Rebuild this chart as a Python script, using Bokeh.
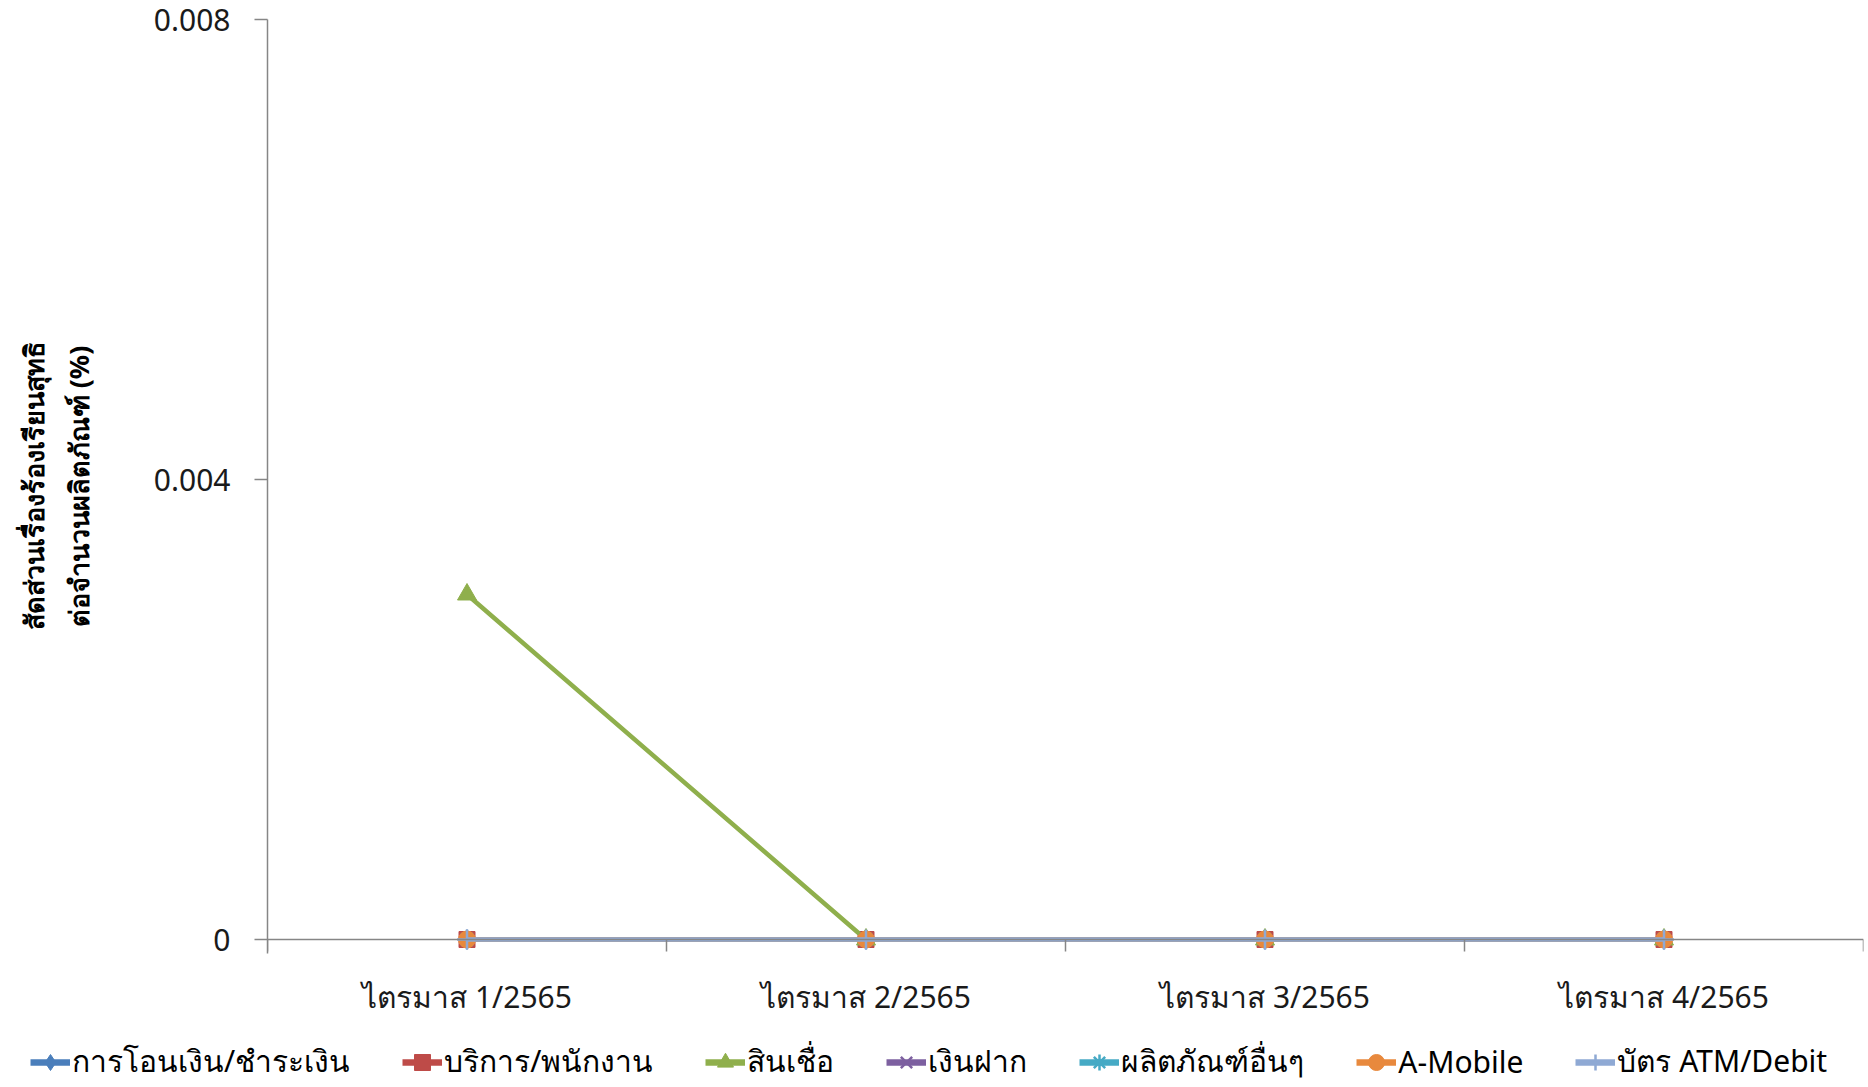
from bokeh.plotting import figure
from bokeh.layouts import column
from bokeh.models import FixedTicker, NumeralTickFormatter, Legend, LegendItem, LinearAxis
from bokeh.embed import file_html
from bokeh.resources import INLINE

# ---- data ----
quarters = ["ไตรมาส 1/2565", "ไตรมาส 2/2565", "ไตรมาส 3/2565", "ไตรมาส 4/2565"]
series_names = ["การโอนเงิน/ชำระเงิน", "บริการ/พนักงาน", "สินเชื่อ", "เงินฝาก",
                "ผลิตภัณฑ์อื่นๆ", "A-Mobile", "บัตร ATM/Debit"]
transfer = [0, 0, 0, 0]
service = [0, 0, 0, 0]
loan = [0.003, 0, 0, 0]
deposit = [0, 0, 0, 0]
other_products = [0, 0, 0, 0]
a_mobile = [0, 0, 0, 0]
atm_debit = [0, 0, 0, 0]
y_ticks = [0, 0.004, 0.008]
y_title = "สัดส่วนเรื่องร้องเรียนสุทธิ\nต่อจำนวนผลิตภัณฑ์ (%)"

series_values = [transfer, service, loan, deposit, other_products, a_mobile, atm_debit]
colors = ["#4A7EBB", "#BE4B48", "#8FAF4C", "#7D60A0", "#46AAC5", "#E8893D", "#8FA9D4"]
markers = ["diamond", "square", "triangle", "x", "asterisk", "circle", "cross"]
msizes = [20, 16, 19, 17, 17, 17, 20]

FONT = "Noto Sans"
x = list(range(1, len(quarters) + 1))

W, H_MAIN, H_LEG = 1868, 1030, 57
top_px, zero_px, pad_px = 19, 939, 14
y_span = y_ticks[-1] - y_ticks[0]
y_pad = y_span * pad_px / (zero_px - top_px)

p = figure(width=W, height=H_MAIN, x_range=(0.5, len(quarters) + 0.5),
           y_range=(y_ticks[0] - y_pad, y_ticks[-1]),
           output_backend="svg", toolbar_location=None,
           min_border_left=267, min_border_right=5, min_border_top=top_px,
           min_border_bottom=H_MAIN - zero_px - pad_px)
p.frame_align = False
p.outline_line_color = None
p.xgrid.grid_line_color = None
p.ygrid.grid_line_color = None

# x axis line at value 0 with tick marks between categories
xa = p.xaxis[0]
xa.fixed_location = 0
xa.ticker = FixedTicker(ticks=[], minor_ticks=[i + 0.5 for i in range(len(quarters) + 1)])
xa.major_tick_out = 0
xa.major_tick_in = 0
xa.minor_tick_out = 12
xa.minor_tick_in = 0
xa.minor_tick_line_color = "#868686"
xa.minor_tick_line_width = 1.5
xa.axis_line_color = "#868686"
xa.axis_line_width = 1.5
xa.major_label_text_font_size = "0px"
xa.major_label_standoff = 0

# category labels
xl = LinearAxis(ticker=FixedTicker(ticks=x, minor_ticks=[]),
                major_label_overrides={i: q for i, q in zip(x, quarters)},
                axis_line_color=None, major_tick_line_color=None,
                minor_tick_line_color=None, major_tick_out=0, major_tick_in=0,
                major_label_text_font=FONT, major_label_text_font_size="30px",
                major_label_text_color="#1a1a1a", major_label_standoff=22)
p.add_layout(xl, "below")

ya = p.yaxis[0]
ya.ticker = FixedTicker(ticks=y_ticks, minor_ticks=[])
ya.formatter = NumeralTickFormatter(format="0.[000]")
ya.major_tick_out = 13
ya.major_tick_in = 0
ya.major_tick_line_color = "#868686"
ya.major_tick_line_width = 1.5
ya.axis_line_color = "#868686"
ya.axis_line_width = 1.5
ya.major_label_text_font = FONT
ya.major_label_text_font_size = "30px"
ya.major_label_text_color = "#1a1a1a"
ya.major_label_standoff = 24
ya.axis_label = y_title
ya.axis_label_text_font = FONT
ya.axis_label_text_font_size = "27px"
ya.axis_label_text_font_style = "bold"
ya.axis_label_text_color = "#000000"
ya.axis_label_standoff = 54

# legend strip below the chart (its frame spans the whole strip)
pl = figure(width=W, height=H_LEG, x_range=(100, 101), y_range=(100, 101),
            output_backend="svg", toolbar_location=None,
            x_axis_location=None, y_axis_location=None,
            min_border_left=0, min_border_right=0, min_border_top=0, min_border_bottom=0)
pl.frame_align = False
pl.outline_line_color = None
pl.xgrid.grid_line_color = None
pl.ygrid.grid_line_color = None

items = []
for name, vals, c, m, s in zip(series_names, series_values, colors, markers, msizes):
    lw = 2.5 if m in ("x", "asterisk", "cross") else 1
    p.line(x, vals, line_color=c, line_width=4.5)
    p.scatter(x, vals, marker=m, size=s, fill_color=c, line_color=c, line_width=lw)
    lr = pl.line(x, vals, line_color=c, line_width=6.5)
    sr = pl.scatter(x, vals, marker=m, size=s, fill_color=c, line_color=c, line_width=lw)
    items.append(LegendItem(label=name, renderers=[lr, sr]))

legend = Legend(items=items, orientation="horizontal", location=(30, 2),
                label_text_font=FONT, label_text_font_size="30px",
                label_text_color="#000000", glyph_width=40, glyph_height=42,
                label_standoff=2, spacing=52, padding=0, margin=0,
                border_line_color=None, background_fill_alpha=0)
pl.add_layout(legend, "center")

layout = column(p, pl, spacing=0)
open("out.html", "w").write(file_html(layout, INLINE))
